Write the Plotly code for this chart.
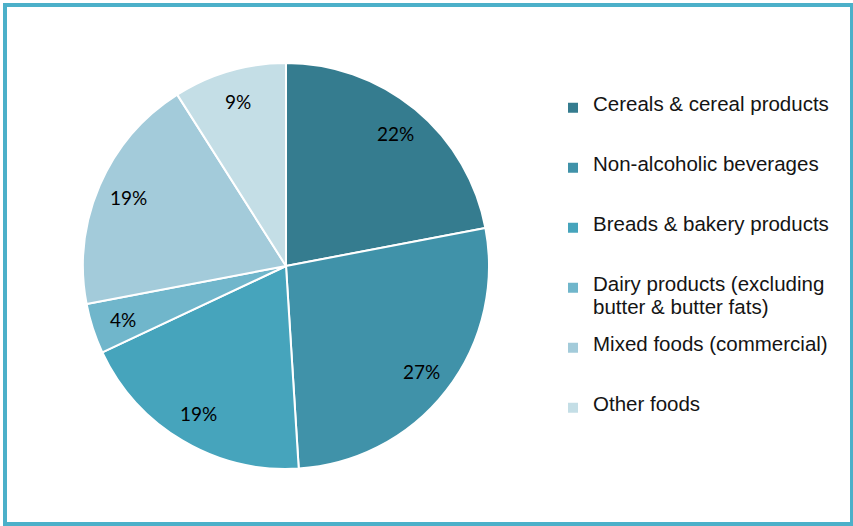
import math
import plotly.graph_objects as go

# Share of intake by food group (%)
categories = [
    "Cereals & cereal products",
    "Non-alcoholic beverages",
    "Breads & bakery products",
    "Dairy products (excluding<br>butter & butter fats)",
    "Mixed foods (commercial)",
    "Other foods",
]
shares = [22, 27, 19, 4, 19, 9]
colors = ["#357c8f", "#4092a9", "#46a4bc", "#70b6cb", "#a3cbda", "#c4dee6"]

W, H = 853, 526
cx, cy, r = 286, 266, 203
label_radius = 0.845 * r

# Legend entries are built on a fine row grid (small base font, larger visible
# text) so every entry has the same height and wrapped text keeps a tight gap.
ROWS = 5
def legend_label(name):
    parts = name.split("<br>")
    rows = [" "] * ROWS
    for i, t in enumerate(parts):
        rows[2 * i] = t
    return "<br>".join(
        f'<span style="font-size:20.5px">{t}</span>' if t.strip() else t for t in rows
    )

fig = go.Figure(
    go.Pie(
        labels=[legend_label(c) for c in categories],
        values=shares,
        sort=False,
        direction="clockwise",
        rotation=0,
        marker=dict(colors=colors, line=dict(color="white", width=2)),
        textinfo="none",
        domain=dict(x=[(cx - r) / W, (cx + r) / W], y=[(H - cy - r) / H, (H - cy + r) / H]),
        hoverinfo="skip",
    )
)

# percentage labels placed toward the rim, at each slice's mid-angle
total = sum(shares)
annotations = []
cum = 0
for v in shares:
    mid = (cum + v / 2) / total * 2 * math.pi
    cum += v
    px = cx + label_radius * math.sin(mid)
    py = cy - label_radius * math.cos(mid)
    annotations.append(
        dict(
            x=px / W,
            y=1 - py / H,
            xref="paper",
            yref="paper",
            text=f"{round(v / total * 100)}%",
            showarrow=False,
            xanchor="center",
            yanchor="middle",
            font=dict(family="Lato, Open Sans, sans-serif", size=19, color="black"),
        )
    )

fig.update_layout(
    width=W,
    height=H,
    margin=dict(l=0, r=0, t=0, b=0),
    paper_bgcolor="white",
    plot_bgcolor="white",
    showlegend=True,
    annotations=annotations,
    legend=dict(
        x=553 / W,
        xanchor="left",
        y=1 - 95.5 / H,
        yanchor="top",
        valign="top",
        font=dict(family="Liberation Sans, Arial, sans-serif", size=8.77, color="#141414"),
        bgcolor="rgba(0,0,0,0)",
        borderwidth=0,
    ),
    shapes=[
        dict(
            type="rect",
            xref="paper",
            yref="paper",
            x0=5 / W,
            x1=852 / W,
            y0=1 - 524 / H,
            y1=1 - 5 / H,
            line=dict(color="#4cb0c9", width=4),
            fillcolor="rgba(0,0,0,0)",
            layer="above",
        )
    ],
)

fig.write_html("out.html")
